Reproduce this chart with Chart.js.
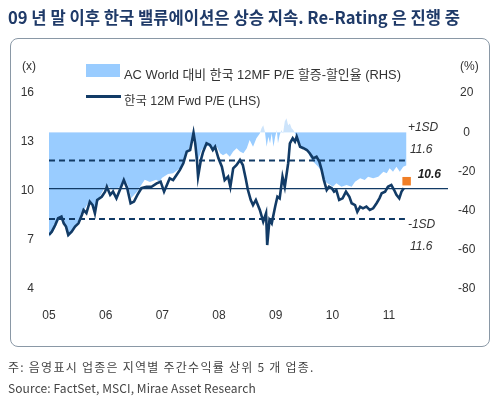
<!DOCTYPE html>
<html>
<head>
<meta charset="utf-8">
<script src="https://cdn.jsdelivr.net/npm/chart.js@4.4.1/dist/chart.umd.min.js"></script>
<style>
  body { margin: 0; width: 500px; height: 399px; position: relative; background: #fff; overflow: hidden; }
  #chart { position: absolute; left: 0; top: 0; }
  .txt { position: absolute; white-space: nowrap; line-height: 1; }
  #title { left: 8px; top: 5px; font: bold 16.6px "Noto Sans CJK KR", sans-serif; color: #1f3a68; }
  #frame { position: absolute; left: 10px; top: 38px; width: 478px; height: 307px; border: 1.5px solid #8a98a6; border-radius: 8px; }
  .lg { font: 12px "Liberation Sans", "Noto Sans CJK KR", sans-serif; color: #333; }
  .lgt { font-size: 12.9px; }
  .note { font: 12px "Noto Sans CJK KR", sans-serif; color: #444; left: 8px; }
</style>
</head>
<body>
<canvas id="chart" width="500" height="399"></canvas>
<div id="frame"></div>
<div id="title" class="txt">09 년 말 이후 한국 밸류에이션은 상승 지속. Re-Rating 은 진행 중</div>
<div class="txt lg" style="left:22px; top:59px;">(x)</div>
<div class="txt lg" style="left:460px; top:59px;">(%)</div>
<div style="position:absolute; left:86px; top:64px; width:34px; height:13px; background:#99ccff;"></div>
<div class="txt lg lgt" style="left:124px; top:64px;">AC World 대비 한국 12MF P/E 할증-할인율 (RHS)</div>
<div style="position:absolute; left:86px; top:95px; width:35px; height:3px; background:#123b66;"></div>
<div class="txt lg" style="left:124px; top:91px; font-size:12.4px;">한국 12M Fwd P/E (LHS)</div>
<div class="txt note" style="top:358px; letter-spacing:1.25px;">주: 음영표시 업종은 지역별 주간수익률 상위 5 개 업종.</div>
<div class="txt note" style="top:379px; letter-spacing:0.1px;">Source: FactSet, MSCI, Mirae Asset Research</div>
<script>
// 한국 12M Fwd P/E (LHS)
const peDates = [2005.0, 2005.05, 2005.11, 2005.16, 2005.22, 2005.26, 2005.30, 2005.34, 2005.40, 2005.46,
  2005.52, 2005.58, 2005.61, 2005.66, 2005.72, 2005.77, 2005.81, 2005.85, 2005.93, 2005.99,
  2006.02, 2006.08, 2006.13, 2006.19, 2006.25, 2006.32, 2006.38, 2006.44, 2006.50, 2006.56,
  2006.63, 2006.72, 2006.81, 2006.90, 2006.97, 2007.03, 2007.08, 2007.13, 2007.19, 2007.25,
  2007.31, 2007.37, 2007.43, 2007.49, 2007.52, 2007.55, 2007.58, 2007.61, 2007.63, 2007.68,
  2007.72, 2007.78, 2007.84, 2007.89, 2007.93, 2007.99, 2008.05, 2008.10, 2008.16, 2008.20,
  2008.25, 2008.31, 2008.37, 2008.42, 2008.47, 2008.51, 2008.56, 2008.60, 2008.65, 2008.72,
  2008.78, 2008.83, 2008.85, 2008.89, 2008.93, 2008.99, 2009.03, 2009.07, 2009.12, 2009.16,
  2009.22, 2009.25, 2009.30, 2009.34, 2009.37, 2009.43, 2009.49, 2009.55, 2009.60, 2009.66,
  2009.72, 2009.77, 2009.81, 2009.85, 2009.90, 2009.94, 2009.99, 2010.03, 2010.07, 2010.12,
  2010.18, 2010.24, 2010.30, 2010.34, 2010.40, 2010.44, 2010.49, 2010.54, 2010.60, 2010.66,
  2010.72, 2010.78, 2010.83, 2010.87, 2010.93, 2010.98, 2011.04, 2011.09, 2011.13, 2011.18,
  2011.22, 2011.26];
const peValues = [7.31, 7.51, 7.92, 8.33, 8.43, 8.02, 7.82, 7.31, 7.51, 7.82,
  8.02, 8.53, 8.84, 8.64, 9.35, 9.14, 8.64, 9.45, 9.65, 9.96,
  10.26, 9.76, 9.96, 9.55, 10.06, 10.67, 10.17, 9.25, 9.35, 9.76,
  10.17, 10.26, 10.26, 10.47, 10.57, 9.96, 10.37, 10.78, 10.67, 10.98,
  11.29, 11.70, 12.41, 12.51, 13.02, 13.57, 12.92, 11.90, 10.88, 11.90,
  12.41, 12.92, 12.82, 12.51, 12.71, 12.00, 11.49, 10.67, 10.88, 10.26,
  11.39, 11.59, 11.90, 11.59, 10.78, 10.06, 9.45, 9.14, 9.45, 8.84,
  8.12, 8.64, 6.69, 8.23, 8.02, 9.04, 9.65, 9.55, 10.88, 10.26,
  11.70, 12.92, 13.23, 13.02, 13.33, 12.71, 12.62, 12.51, 12.31, 12.00,
  12.10, 11.80, 11.29, 10.67, 10.06, 10.26, 10.17, 9.96, 10.06, 9.45,
  9.55, 9.96, 9.65, 9.25, 9.14, 8.73, 9.04, 8.94, 9.04, 8.84,
  8.94, 9.25, 9.55, 9.86, 9.96, 10.26, 10.37, 10.06, 9.76, 9.55,
  9.96, 10.17];

// AC World 대비 한국 12MF P/E 할증-할인율 (RHS, %)
const premDates = [2005.0, 2005.11, 2005.19, 2005.28, 2005.34, 2005.46, 2005.58, 2005.72, 2005.81, 2005.90,
  2006.01, 2006.13, 2006.25, 2006.32, 2006.39, 2006.45, 2006.55, 2006.64, 2006.69, 2006.78,
  2006.89, 2006.96, 2006.99, 2007.10, 2007.19, 2007.31, 2007.40, 2007.46, 2007.52, 2007.55,
  2007.59, 2007.63, 2007.69, 2007.78, 2007.87, 2007.96, 2008.02, 2008.07, 2008.13, 2008.19,
  2008.25, 2008.31, 2008.37, 2008.43, 2008.49, 2008.54, 2008.60, 2008.66, 2008.72, 2008.75,
  2008.78, 2008.81, 2008.84, 2008.87, 2008.90, 2008.93, 2008.96, 2008.99, 2009.02, 2009.04,
  2009.07, 2009.10, 2009.13, 2009.16, 2009.19, 2009.22, 2009.25, 2009.28, 2009.31, 2009.34,
  2009.40, 2009.46, 2009.55, 2009.63, 2009.69, 2009.75, 2009.81, 2009.87, 2009.96, 2010.01,
  2010.07, 2010.16, 2010.25, 2010.34, 2010.40, 2010.49, 2010.57, 2010.63, 2010.72, 2010.81,
  2010.90, 2010.96, 2011.01, 2011.07, 2011.13, 2011.19, 2011.25, 2011.31];
const premValues = [-53.5, -48.9, -43.8, -47.3, -53.5, -48.9, -41.7, -34.6, -40.7, -32.6,
  -26.9, -29.5, -28.0, -23.4, -26.9, -33.6, -30.5, -26.4, -24.3, -25.4,
  -24.3, -25.4, -23.4, -21.3, -21.0, -18.4, -13.3, -9.1, -4.0, -1.4,
  -9.1, -14.2, -9.1, -6.5, -8.2, -7.4, -10.8, -11.7, -10.8, -12.5,
  -9.9, -8.2, -9.9, -10.8, -8.2, -4.0, -7.4, -3.1, -0.6, 2.0,
  3.6, 0.2, -7.4, -2.3, -5.7, -0.6, -7.4, -2.3, 1.1, -5.7,
  -1.4, 1.1, -0.6, 5.4, 7.1, 3.6, 4.5, 2.0, 1.1, -0.6,
  -4.8, -7.4, -9.1, -14.2, -15.9, -17.6, -20.2, -25.3, -26.9, -27.8,
  -26.1, -27.8, -26.9, -27.8, -25.3, -23.5, -24.4, -22.7, -23.5, -22.7,
  -20.2, -21.0, -18.4, -20.2, -17.6, -20.2, -17.6, -16.8];

// axes and reference levels
const yearTicks = [2005, 2006, 2007, 2008, 2009, 2010, 2011];
const leftTicks = [4, 7, 10, 13, 16];
const rightTicks = [-80, -60, -40, -20, 0, 20];
const xRange = [2005, 2012.04];
const crossLevel = 10.15;
const sdUpper = 11.87;
const sdLower = 8.29;
const sdEnd = 2011.28;
const lastPoint = { x: 2011.31, y: 10.6 };
const sdLabels = ['+1SD', '11.6', '-1SD', '11.6'];

const navy = '#123b66';

function pts(xs, ys) {
  return xs.map((x, i) => ({ x: x, y: ys[i] }));
}

const notes = {
  id: 'notes',
  afterDatasetsDraw(chart) {
    const c = chart.ctx;
    const xs = chart.scales.x, ys = chart.scales.y;
    const lx = xs.getPixelForValue(sdEnd) + 3;
    const up = ys.getPixelForValue(sdUpper);
    const dn = ys.getPixelForValue(sdLower);
    c.save();
    c.fillStyle = '#333';
    c.textAlign = 'left';
    c.textBaseline = 'middle';
    c.font = 'italic 12px "Liberation Sans"';
    c.fillText(sdLabels[0], lx, up - 33);
    c.fillText(sdLabels[1], lx + 2, up - 11);
    c.fillText(sdLabels[2], lx, dn + 6);
    c.fillText(sdLabels[3], lx + 2, dn + 28);
    c.font = 'italic bold 12px "Liberation Sans"';
    c.fillStyle = '#222';
    c.fillText(lastPoint.y.toFixed(1), xs.getPixelForValue(lastPoint.x) + 11, ys.getPixelForValue(lastPoint.y) - 7);
    c.restore();
  }
};

new Chart(document.getElementById('chart'), {
  type: 'line',
  data: {
    datasets: [
      {
        data: pts(peDates, peValues),
        yAxisID: 'y',
        borderColor: navy,
        borderWidth: 2.6,
        pointRadius: 0,
        tension: 0,
        order: 0
      },
      {
        data: [lastPoint],
        yAxisID: 'y',
        showLine: false,
        pointStyle: 'rect',
        pointRadius: 6,
        pointBorderWidth: 0,
        pointBackgroundColor: '#f07e26',
        order: -1
      },
      {
        data: pts(xRange, [crossLevel, crossLevel]),
        yAxisID: 'y',
        borderColor: navy,
        borderWidth: 1.3,
        pointRadius: 0,
        order: 1
      },
      {
        data: pts([xRange[0], sdEnd], [sdUpper, sdUpper]),
        yAxisID: 'y',
        borderColor: navy,
        borderWidth: 2,
        borderDash: [6, 4],
        pointRadius: 0,
        order: 2
      },
      {
        data: pts([xRange[0], sdEnd], [sdLower, sdLower]),
        yAxisID: 'y',
        borderColor: navy,
        borderWidth: 2,
        borderDash: [6, 4],
        pointRadius: 0,
        order: 2
      },
      {
        data: pts(premDates, premValues),
        yAxisID: 'y2',
        borderWidth: 0,
        borderColor: 'rgba(0,0,0,0)',
        backgroundColor: '#99ccff',
        fill: { target: 'origin', above: '#cde4fb', below: '#99ccff' },
        pointRadius: 0,
        tension: 0,
        order: 5
      }
    ]
  },
  options: {
    responsive: false,
    animation: false,
    layout: { padding: { top: 93, right: 14, left: 0, bottom: 0 } },
    plugins: { legend: { display: false }, tooltip: { enabled: false } },
    scales: {
      x: {
        type: 'linear',
        min: xRange[0],
        max: xRange[1],
        afterFit: s => { s.height = 110; },
        afterBuildTicks: s => { s.ticks = yearTicks.map(v => ({ value: v })); },
        grid: { display: false, drawTicks: false, tickLength: 0 },
        border: { display: false },
        ticks: {
          padding: 19,
          maxRotation: 0,
          autoSkip: false,
          color: '#333',
          font: { family: 'Liberation Sans', size: 12 },
          callback: v => String(v).slice(2)
        }
      },
      y: {
        position: 'left',
        min: 4,
        max: 16,
        afterFit: s => { s.width = 49; },
        afterBuildTicks: s => { s.ticks = leftTicks.map(v => ({ value: v })); },
        grid: { display: false, drawTicks: false, tickLength: 0 },
        border: { display: false },
        ticks: {
          padding: 15,
          color: '#333',
          font: { family: 'Liberation Sans', size: 12 }
        }
      },
      y2: {
        position: 'right',
        min: -80,
        max: 20,
        afterFit: s => { s.width = 38; },
        afterBuildTicks: s => { s.ticks = rightTicks.map(v => ({ value: v })); },
        grid: { display: false, drawTicks: false, tickLength: 0 },
        border: { display: false },
        ticks: {
          padding: 10,
          crossAlign: 'center',
          color: '#333',
          font: { family: 'Liberation Sans', size: 12 }
        }
      }
    }
  },
  plugins: [notes]
});
</script>
</body>
</html>
